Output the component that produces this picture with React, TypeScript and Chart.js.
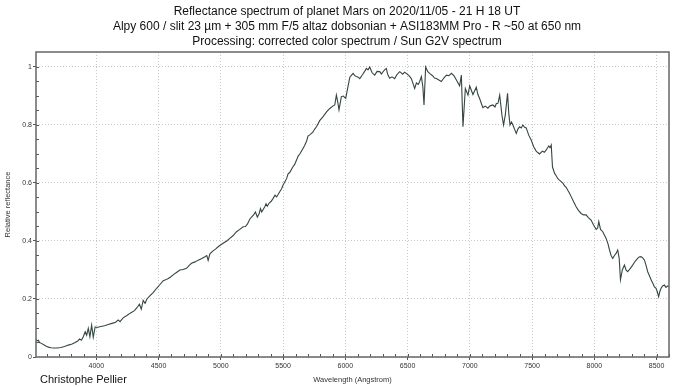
import React, { useEffect, useRef } from "react";
import { Chart, registerables } from "chart.js";

Chart.register(...registerables);

const TITLE_LINES = [
  "Reflectance spectrum of planet Mars on 2020/11/05 - 21 H 18 UT",
  "Alpy 600 / slit 23 µm + 305 mm F/5 altaz dobsonian + ASI183MM Pro - R ~50 at 650 nm",
  "Processing: corrected color spectrum / Sun G2V spectrum",
];
const AUTHOR = "Christophe Pellier";
const X_TITLE = "Wavelength (Angstrom)";
const Y_TITLE = "Relative reflectance";

const X_TICKS = [4000, 4500, 5000, 5500, 6000, 6500, 7000, 7500, 8000, 8500];
const X_TICK_LABELS = ["4000", "4500", "5000", "5500", "6000", "6500", "7000", "7500", "8000", "8500"];
const Y_TICKS = [0, 0.2, 0.4, 0.6, 0.8, 1];
const Y_TICK_LABELS = ["0", "0.2", "0.4", "0.6", "0.8", "1"];

const wavelength = [
  3512, 3524, 3534, 3544, 3559, 3574, 3594, 3614, 3634, 3654, 3685, 3715, 3745, 3775, 3805, 3830, 3850, 3865,
  3880, 3895, 3910, 3922, 3935, 3948, 3962, 3975, 3990, 4005, 4035, 4065, 4095, 4125, 4155, 4175, 4190, 4215,
  4245, 4275, 4306, 4326, 4346, 4361, 4376, 4391, 4406, 4431, 4456, 4484, 4511, 4537, 4556, 4577, 4596, 4617,
  4646, 4671, 4696, 4724, 4746, 4764, 4792, 4818, 4847, 4872, 4887, 4898, 4912, 4937, 4957, 4978, 4997, 5018,
  5047, 5072, 5097, 5126, 5152, 5179, 5197, 5213, 5233, 5248, 5263, 5278, 5293, 5308, 5318, 5328, 5353, 5363,
  5373, 5388, 5403, 5420, 5435, 5448, 5473, 5488, 5500, 5528, 5540, 5553, 5578, 5593, 5608, 5620, 5634, 5661,
  5674, 5689, 5700, 5714, 5739, 5754, 5768, 5794, 5821, 5849, 5875, 5899, 5915, 5928, 5939, 5949, 5968, 5984,
  6003, 6020, 6036, 6050, 6062, 6076, 6089, 6103, 6116, 6140, 6155, 6169, 6182, 6196, 6215, 6236, 6255, 6276,
  6290, 6300, 6315, 6329, 6340, 6356, 6375, 6396, 6416, 6437, 6461, 6476, 6490, 6511, 6530, 6546, 6557, 6571,
  6586, 6597, 6611, 6623, 6632, 6645, 6661, 6677, 6701, 6716, 6731, 6751, 6771, 6791, 6812, 6832, 6852, 6872,
  6892, 6918, 6932, 6945, 6964, 6974, 6985, 6999, 7012, 7025, 7039, 7052, 7065, 7078, 7092, 7105, 7125, 7145,
  7162, 7185, 7202, 7213, 7226, 7240, 7258, 7271, 7285, 7303, 7313, 7323, 7335, 7346, 7360, 7373, 7386, 7400,
  7413, 7426, 7440, 7453, 7473, 7493, 7513, 7533, 7546, 7560, 7583, 7598, 7614, 7634, 7644, 7654, 7664, 7681,
  7694, 7707, 7720, 7734, 7747, 7761, 7774, 7787, 7801, 7814, 7834, 7854, 7874, 7894, 7914, 7934, 7954, 7974,
  7994, 8015, 8027, 8036, 8050, 8068, 8082, 8095, 8110, 8122, 8135, 8148, 8162, 8175, 8188, 8200, 8210, 8225,
  8242, 8255, 8268, 8288, 8308, 8328, 8348, 8360, 8375, 8389, 8403, 8416, 8429, 8443, 8456, 8469, 8483, 8496,
  8506, 8517, 8526, 8536, 8549, 8563, 8576, 8589, 8600,
];

const reflectance = [
  0.062, 0.056, 0.058, 0.05, 0.047, 0.043, 0.038, 0.034, 0.032, 0.031, 0.031, 0.033, 0.036, 0.041, 0.045, 0.05, 0.055, 0.062,
  0.058, 0.07, 0.087, 0.075, 0.099, 0.07, 0.11, 0.068, 0.104, 0.102, 0.105, 0.108, 0.112, 0.116, 0.12, 0.128, 0.122, 0.135,
  0.143, 0.152, 0.16, 0.17, 0.182, 0.165, 0.195, 0.185, 0.2, 0.212, 0.222, 0.237, 0.25, 0.263, 0.266, 0.271, 0.276, 0.283,
  0.292, 0.3, 0.302, 0.306, 0.316, 0.323, 0.328, 0.334, 0.34, 0.346, 0.35, 0.333, 0.356, 0.366, 0.372, 0.38, 0.386, 0.392,
  0.4, 0.409, 0.418, 0.432, 0.44, 0.449, 0.45, 0.458, 0.476, 0.483, 0.49, 0.5, 0.482, 0.495, 0.512, 0.5, 0.518, 0.528,
  0.52, 0.531, 0.536, 0.547, 0.558, 0.552, 0.57, 0.58, 0.593, 0.615, 0.632, 0.636, 0.655, 0.664, 0.679, 0.692, 0.7, 0.72,
  0.73, 0.745, 0.762, 0.766, 0.775, 0.786, 0.794, 0.815, 0.829, 0.845, 0.857, 0.865, 0.869, 0.903, 0.88, 0.852, 0.898, 0.9,
  0.892, 0.93, 0.965, 0.972, 0.978, 0.97, 0.967, 0.965, 0.96, 0.975, 0.985, 0.995, 0.99, 1.0, 0.98, 0.972, 0.985, 0.984,
  0.976, 0.982, 0.99, 0.995, 0.975, 0.961, 0.966, 0.96, 0.975, 0.984, 0.975, 0.982, 0.978, 0.97, 0.96, 0.94, 0.926, 0.945,
  0.94, 0.95, 0.967, 0.93, 0.869, 1.0, 0.985, 0.978, 0.97, 0.962, 0.96, 0.955, 0.95, 0.962, 0.972, 0.97, 0.978, 0.97,
  0.955, 0.935, 0.972, 0.794, 0.926, 0.915, 0.903, 0.935, 0.92, 0.905, 0.918, 0.93, 0.905, 0.892, 0.875, 0.86, 0.865, 0.858,
  0.866, 0.869, 0.862, 0.874, 0.875, 0.903, 0.834, 0.8, 0.835, 0.909, 0.84, 0.8, 0.81, 0.8, 0.785, 0.771, 0.786, 0.794,
  0.79, 0.8, 0.792, 0.79, 0.765, 0.748, 0.725, 0.71, 0.705, 0.7, 0.71, 0.706, 0.714, 0.728, 0.722, 0.731, 0.655, 0.633,
  0.625, 0.615, 0.61, 0.605, 0.6, 0.59, 0.585, 0.575, 0.565, 0.553, 0.535, 0.518, 0.505, 0.495, 0.49, 0.49, 0.48, 0.472,
  0.455, 0.44, 0.445, 0.467, 0.44, 0.432, 0.42, 0.409, 0.39, 0.369, 0.35, 0.34, 0.35, 0.357, 0.369, 0.34, 0.266, 0.3,
  0.317, 0.3, 0.294, 0.305, 0.317, 0.33, 0.34, 0.345, 0.346, 0.342, 0.334, 0.315, 0.294, 0.28, 0.266, 0.255, 0.242, 0.237,
  0.225, 0.208, 0.225, 0.237, 0.245, 0.248, 0.24, 0.245, 0.242,
];

const FONT = '"Liberation Sans", Arial, sans-serif';

const decorPlugin = {
  id: "decor",
  beforeDraw(chart: any) {
    const { ctx, width, height } = chart;
    ctx.save();
    ctx.fillStyle = "#ffffff";
    ctx.fillRect(0, 0, width, height);
    ctx.restore();
  },
  afterDraw(chart: any) {
    const { ctx, chartArea, scales } = chart;
    const { left, top, right, bottom } = chartArea;
    const x = scales.x;
    const y = scales.y;
    ctx.save();
    // minor ticks
    ctx.strokeStyle = "#555";
    ctx.lineWidth = 1;
    ctx.beginPath();
    for (let v = 0.05; v < 1.05; v += 0.05) {
      const py = Math.round(y.getPixelForValue(v)) + 0.5;
      ctx.moveTo(left, py);
      ctx.lineTo(left + 3, py);
    }
    for (let v = 3600; v <= 8600; v += 100) {
      const px = Math.round(x.getPixelForValue(v)) + 0.5;
      ctx.moveTo(px, bottom);
      ctx.lineTo(px, bottom - 3);
    }
    ctx.stroke();
    // frame
    ctx.strokeStyle = "#666";
    ctx.lineWidth = 1.5;
    ctx.strokeRect(left, top, right - left, bottom - top);
    // titles
    ctx.fillStyle = "#111";
    ctx.font = `12px ${FONT}`;
    ctx.textAlign = "center";
    ctx.textBaseline = "middle";
    TITLE_LINES.forEach((t, i) => ctx.fillText(t, 347, 12 + i * 15));
    // author
    ctx.font = `11px ${FONT}`;
    ctx.textAlign = "left";
    ctx.fillText(AUTHOR, 40, 380);
    ctx.restore();
  },
};

export default function App() {
  const ref = useRef<HTMLCanvasElement | null>(null);
  useEffect(() => {
    document.body.style.margin = "0";
    const canvas = ref.current;
    if (!canvas) return;
    const points = wavelength.map((w, i) => ({ x: w, y: reflectance[i] }));
    const chart = new Chart(canvas, {
      type: "line",
      data: {
        datasets: [
          {
            data: points,
            borderColor: "#34463f",
            borderWidth: 1.1,
            pointRadius: 0,
            tension: 0,
            fill: false,
          },
        ],
      },
      options: {
        animation: false,
        responsive: false,
        devicePixelRatio: 1,
        layout: { padding: { top: 52, right: 11, bottom: 0, left: 0 } },
        plugins: { legend: { display: false }, tooltip: { enabled: false }, title: { display: false } },
        scales: {
          x: {
            type: "linear",
            min: 3515,
            max: 8600,
            afterBuildTicks: (s: any) => {
              s.ticks = X_TICKS.map((v) => ({ value: v }));
            },
            afterFit: (s: any) => {
              s.height = 30;
            },
            ticks: {
              autoSkip: false,
              maxRotation: 0,
              padding: 2,
              color: "#333",
              font: { family: FONT, size: 7 },
              callback: (_v: any, i: number) => X_TICK_LABELS[i],
            },
            grid: {
              color: "#c8c8c8",
              lineWidth: 1,
              tickLength: 3,
              tickColor: "#555",
              drawTicks: true,
            },
            border: { display: false, dash: [1, 2] },
            title: {
              display: true,
              text: X_TITLE,
              color: "#333",
              font: { family: FONT, size: 7.5 },
              padding: { top: 0, bottom: 2.5 },
            },
          },
          y: {
            type: "linear",
            min: 0,
            max: 1.0517,
            afterBuildTicks: (s: any) => {
              s.ticks = Y_TICKS.map((v) => ({ value: v }));
            },
            afterFit: (s: any) => {
              s.width = 36;
            },
            ticks: {
              autoSkip: false,
              padding: 1,
              color: "#333",
              font: { family: FONT, size: 7 },
              callback: (_v: any, i: number) => Y_TICK_LABELS[i],
            },
            grid: {
              color: "#c8c8c8",
              lineWidth: 1,
              tickLength: 3,
              tickColor: "#555",
              drawTicks: true,
            },
            border: { display: false, dash: [1, 2] },
            title: {
              display: true,
              text: Y_TITLE,
              color: "#333",
              font: { family: FONT, size: 7.5 },
              padding: { top: 3, bottom: 0 },
            },
          },
        },
      },
      plugins: [decorPlugin],
    });
    return () => chart.destroy();
  }, []);
  return (
    <div style={{ width: 680, height: 387, position: "relative" }}>
      <canvas ref={ref} width={680} height={387} style={{ display: "block" }} />
    </div>
  );
}
